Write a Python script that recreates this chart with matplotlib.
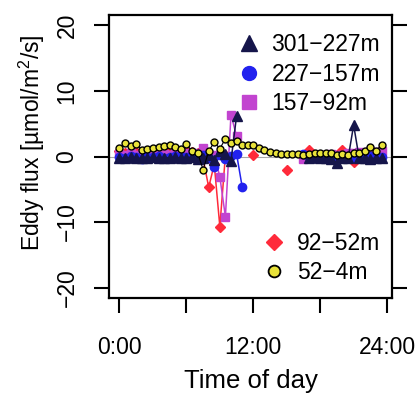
import numpy as np
import matplotlib
matplotlib.use('Agg')
from matplotlib import pyplot as plt
from matplotlib.lines import Line2D

# eddy flux profile over one day, half-hourly values per depth layer

nan = np.nan
hours = np.arange(48) * 0.5

flux_301_227 = [-0.2, -0.3, -0.1, -0.2, -0.3, -0.2, -0.1, -0.3, -0.2, -0.2, -0.1, -0.3,
                -0.2, -0.1, -0.4, -0.3, 0.3, -0.5, 0.9, 0.4, -0.7, 6.2, nan, nan,
                nan, nan, nan, nan, nan, nan, nan, nan, nan, nan, -0.2, 0.0,
                -0.3, -0.2, -0.4, -1.0, -0.2, -0.3, 4.8, -0.3, -0.2, -0.4, -0.2, -0.3]
flux_227_157 = [0.0, -0.2, 0.1, -0.1, -0.45, -0.1, 0.0, 0.1, -0.2, 0.0, 0.1, -0.1,
                0.0, 0.1, -0.3, 0.2, -0.3, -1.6, 0.2, -0.4, 0.1, 0.4, -4.6, nan,
                nan, nan, nan, nan, nan, nan, nan, nan, nan, 0.4, 0.0, 0.2,
                -0.1, 0.1, -0.2, 0.0, -0.1, 0.1, -0.2, 0.0, -0.1, 0.1, -0.2, 0.0]
flux_157_92 = [0.4, 0.3, 0.5, 0.2, 0.4, 0.6, 0.3, 0.5, 0.4, 0.3, 0.5, 0.4,
               0.6, 0.3, 0.5, 1.3, -0.2, 0.3, -3.1, -9.2, 6.4, 3.1, nan, nan,
               nan, nan, nan, nan, nan, nan, nan, nan, nan, -0.35, 0.2, 0.1,
               0.3, 0.2, 0.4, 0.2, 0.3, 0.5, 0.6, 0.7, 0.6, 0.8, 0.7, 0.8]
flux_92_52 = [0.8, 0.6, 0.9, 0.7, 0.5, 0.8, 0.6, 0.9, 0.7, 0.8, 0.6, 0.9,
              1.0, 0.7, 0.5, -0.3, -4.7, -1.2, -10.7, 0.2, nan, nan, nan, nan,
              0.3, nan, nan, nan, nan, nan, -2.0, nan, nan, nan, 1.0, 0.2,
              -0.1, 0.3, 0.1, 0.2, 1.0, 0.1, -0.8, 0.0, nan, nan, nan, nan]
flux_52_4 = [1.3, 2.1, 1.6, 1.9, 1.0, 1.2, 1.3, 1.5, 1.6, 1.7, 1.4, 1.2,
             1.9, 0.8, 0.6, -2.0, 0.8, 2.2, 1.2, 2.7, 2.0, 2.4, 1.8, 1.7,
             1.7, 1.3, 1.0, 0.7, 0.5, 0.4, 0.4, 0.4, 0.4, 0.3, 0.4, 0.6,
             0.5, 0.6, 0.5, 0.3, 0.4, 0.3, 0.5, 0.6, 0.8, 1.4, 0.9, 1.7]

plt.rcParams['font.family'] = ['Liberation Sans', 'DejaVu Sans']
plt.rcParams['mathtext.default'] = 'regular'

fig = plt.figure(figsize=(4.18, 3.94), dpi=100)
ax = fig.add_axes([109 / 418, 96 / 394, 283 / 418, 283 / 394])

ax.axhline(0, color='#a8a8a8', lw=0.8, zorder=1)

col_navy = '#15154a'
col_blue = '#2222ee'
col_orchid = '#c244d0'
col_red = '#ff2a3a'
col_yellow = '#e8e23a'

ax.plot(hours, flux_92_52, color=col_red, lw=1.1, marker='D', ms=5.5, zorder=2)
ax.plot(hours, flux_157_92, color=col_orchid, lw=1.1, marker='s', ms=5.5, zorder=3)
ax.plot(hours, flux_227_157, color=col_blue, lw=1.1, marker='o', ms=6, zorder=4)
ax.plot(hours, flux_301_227, color=col_navy, lw=1.1, marker='^', ms=6.5, zorder=5)
ax.plot(hours, flux_52_4, color='black', lw=0.8, marker='o', ms=5,
        mfc=col_yellow, mec='black', mew=1.0, zorder=6)

ax.set_xlim(-0.94, 24.44)
ax.set_ylim(-21.6, 21.6)
ax.set_xticks([0, 6, 12, 18, 24])
ax.set_xticklabels(['0:00', '', '12:00', '', '24:00'])
ax.set_yticks([-20, -10, 0, 10, 20])

for s in ax.spines.values():
    s.set_linewidth(1.6)
ax.tick_params(axis='both', direction='out', length=11, width=1.5, labelsize=16.5)
ax.tick_params(axis='x', pad=16)
ax.tick_params(axis='y', pad=11, right=True, labelrotation=90)
for lab in ax.get_yticklabels():
    lab.set_va('center')

ax.set_xlabel('Time of day', fontsize=18.5, va='center')
ax.xaxis.set_label_coords(0.5, -0.292)
ax.set_ylabel('Eddy flux [µmol/m$^2$/s]', fontsize=16.5, va='center')
ax.yaxis.set_label_coords(-0.272, 0.55)

h1 = [Line2D([], [], ls='none', marker='^', ms=11, color=col_navy),
      Line2D([], [], ls='none', marker='o', ms=10, color=col_blue),
      Line2D([], [], ls='none', marker='s', ms=9.5, color=col_orchid)]
leg1 = ax.legend(h1, ['301−227m', '227−157m', '157−92m'], loc='upper right',
                 bbox_to_anchor=(0.958, 0.935), frameon=False, fontsize=16.5,
                 borderpad=0, borderaxespad=0, handlelength=1.0,
                 handletextpad=0.5, labelspacing=0.28)
ax.add_artist(leg1)
h2 = [Line2D([], [], ls='none', marker='D', ms=8.5, color=col_red),
      Line2D([], [], ls='none', marker='o', ms=8.5, mfc=col_yellow, mec='black', mew=1.3)]
ax.legend(h2, ['92−52m', '52−4m'], loc='lower right',
          bbox_to_anchor=(0.958, 0.05), frameon=False, fontsize=16.5,
          borderpad=0, borderaxespad=0, handlelength=1.0,
          handletextpad=0.5, labelspacing=0.25)

fig.savefig('out.png', dpi=100)
